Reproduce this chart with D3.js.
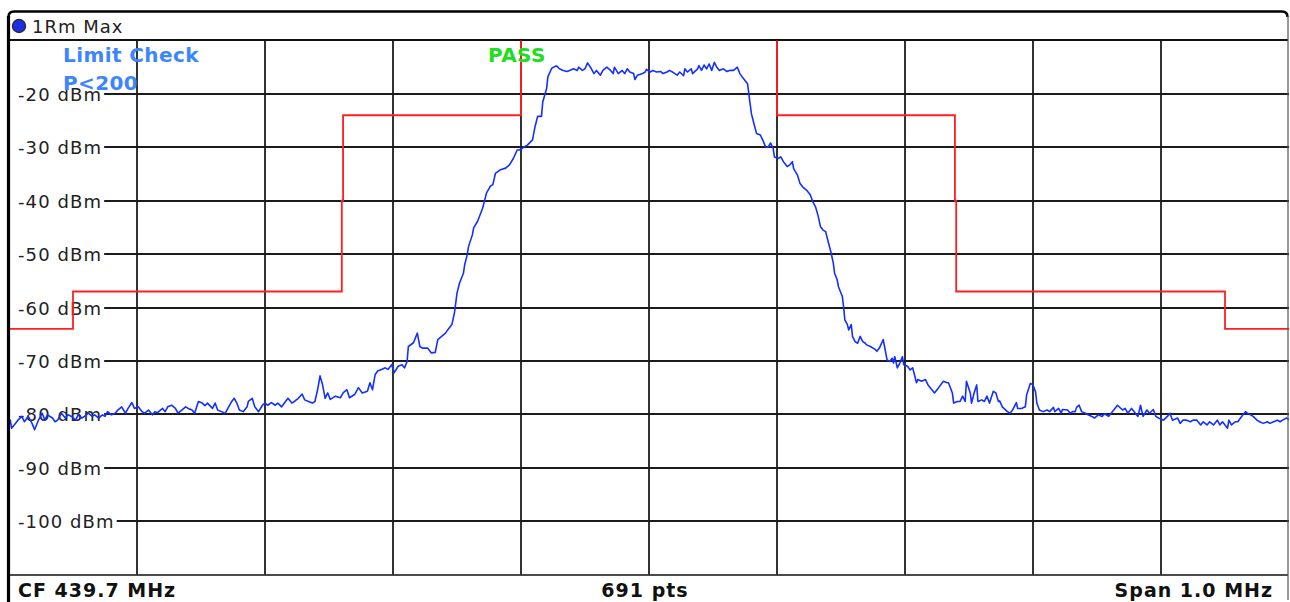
<!DOCTYPE html>
<html>
<head>
<meta charset="utf-8">
<script src="https://cdn.jsdelivr.net/npm/d3@7"></script>
<style>
  body { margin: 0; background: #fff; }
  svg { display: block; font-family: "DejaVu Sans", Verdana, sans-serif; }
</style>
</head>
<body>
<svg id="chart" width="1290" height="602"></svg>
<script>
// analyzer settings
const centerMHz = 439.7;
const spanMHz = 1.0;
const sweepPoints = 691;
const traceName = "1Rm Max";
const limitName = "Limit Check";
const limitRule = "P<200";
const limitResult = "PASS";

// y axis: reference level -10 dBm, 10 dB/div
const levelRange = [-10, -110];
const levelTicks = [-20, -30, -40, -50, -60, -70, -80, -90, -100];
// x grid: offsets from centre frequency, kHz
const freqRange = [-500, 500];
const freqTicks = [-400, -300, -200, -100, 0, 100, 200, 300, 400];

// spectrum emission mask [kHz offset, dBm]
const limitLine = [
  [-500, -64], [-450, -64], [-450, -57], [-240, -57], [-240, -40], [-239, -40], [-239, -24],
  [-100, -24], [-100, 0], [100, 0], [100, -24],
  [239, -24], [239, -40], [240, -40], [240, -57], [450, -57], [450, -64], [500, -64]
];

// max-hold trace [kHz offset, dBm]
const trace = [
  [-500,-82],[-499,-81.1],[-498,-82.6],[-495,-81.7],[-493,-81.1],[-490,-80.4],[-488,-81.4],[-485,-80.4],
  [-482,-81.7],[-480,-82.9],[-477,-81.1],[-474,-79.8],[-472,-81.1],[-470,-80.1],[-466,-80.7],[-464,-81.4],
  [-462,-81.1],[-459,-79.8],[-456,-80.7],[-454,-80.1],[-451,-80.4],[-448,-81.1],[-446,-80.1],[-443,-80.7],
  [-441,-80.4],[-438,-79.8],[-435,-80.4],[-433,-80.1],[-430,-80.7],[-427,-80.1],[-425,-80.4],[-423,-79.5],
  [-420,-80.1],[-417,-79.8],[-415,-79.2],[-412,-78.6],[-409,-79.8],[-407,-78.9],[-404,-77.8],[-402,-78.9],
  [-399,-78.6],[-396,-79.5],[-394,-79.8],[-391,-79.2],[-388,-80.1],[-386,-79.5],[-384,-79.7],[-380,-78.9],
  [-378,-79.5],[-376,-78.6],[-373,-78.3],[-370,-78.9],[-368,-79.8],[-365,-79.2],[-362,-78.6],[-360,-78.9],
  [-357,-79.2],[-355,-79.8],[-352,-77.6],[-349,-77.9],[-347,-78.4],[-345,-77.9],[-341,-78.9],[-339,-77.9],
  [-337,-79.2],[-334,-79.5],[-331,-79.8],[-329,-78.9],[-326,-77.6],[-324,-77],[-322,-77.9],[-320,-79.2],
  [-317,-79.5],[-314,-78.6],[-313,-77.6],[-310,-77],[-308,-78.6],[-305,-79.5],[-302,-78.3],[-300,-77.9],
  [-298,-78.3],[-295,-77.8],[-292,-78.3],[-290,-77.9],[-287,-78.6],[-284,-77.6],[-282,-77],[-279,-77.9],
  [-277,-77.6],[-274,-77],[-271,-76.2],[-269,-77.3],[-266,-77.6],[-263,-77.9],[-261,-77.6],[-259,-75.5],
  [-257,-72.8],[-255,-74.5],[-253,-77],[-251,-76],[-249,-77.2],[-245,-76.6],[-241,-76.9],[-239,-76],
  [-236,-75.4],[-234,-76.9],[-230,-76.3],[-227,-75],[-224,-76],[-220,-75.7],[-218,-74.1],[-216,-75.4],
  [-214,-72.6],[-212,-71.9],[-209,-71.6],[-206,-71.3],[-204,-71.6],[-201,-70.7],[-199,-72.2],[-196,-71],
  [-193,-70.7],[-191,-71.3],[-189,-70.1],[-188,-67.3],[-184,-66.6],[-181,-64.8],[-179,-67.3],[-177,-67.6],
  [-173,-67.6],[-170,-68.5],[-167,-68.4],[-165,-66],[-162,-65.4],[-159,-64.8],[-157,-64.1],[-154,-63.2],
  [-152,-61],[-151,-59.2],[-150,-57.3],[-148,-55.4],[-145,-53.6],[-144,-52],[-142,-50.1],[-141,-48.6],
  [-138,-46.4],[-137,-45.1],[-134,-43.9],[-133,-43.3],[-130,-41.4],[-129,-40.5],[-127,-38.6],[-124,-37.3],
  [-122,-37],[-120,-34.9],[-116,-34.2],[-112,-33.9],[-109,-33.3],[-106,-32.1],[-103,-30.5],[-101,-30.5],
  [-98,-30],[-95,-29.6],[-91,-28.6],[-89,-26.1],[-87,-24.2],[-84,-24.2],[-83,-21.5],[-80,-19],
  [-79,-16.8],[-76,-15.2],[-73,-14.8],[-72,-14.8],[-70,-15.3],[-67,-15.6],[-64,-15.8],[-62,-15.6],
  [-59,-15.3],[-56,-15.6],[-55,-15],[-52,-15.6],[-50,-15.3],[-48,-14.2],[-45,-15.3],[-43,-16.2],
  [-41,-15.6],[-38,-16.5],[-36,-15.6],[-33,-15],[-30,-15.6],[-28,-16.2],[-27,-15],[-24,-16.2],
  [-21,-15.6],[-19,-16.2],[-17,-15.3],[-15,-15.9],[-12,-16.2],[-11,-17.3],[-9,-16.5],[-5,-16.2],
  [-3,-15.9],[-2,-15.4],[1,-15.9],[3,-15.6],[6,-15.9],[9,-15.8],[11,-16.2],[14,-15.9],
  [16,-15.6],[19,-16],[22,-16.5],[24,-15.9],[27,-16.6],[28,-15.3],[30,-15.9],[33,-15.3],
  [34,-16.2],[38,-15.3],[39,-14.7],[41,-15.6],[43,-14.6],[45,-15.3],[47,-14.4],[49,-15.6],
  [51,-14.1],[53,-15],[55,-15.6],[58,-15.3],[61,-15.8],[63,-15.6],[66,-15.6],[69,-15],
  [71,-16.2],[73,-16.9],[77,-18.1],[78,-20],[80,-23.7],[82,-25.6],[84,-27.4],[87,-27.7],
  [89,-28.7],[91,-29.9],[93,-30],[95,-29.2],[97,-30.2],[98,-31.8],[101,-32.1],[103,-31.8],
  [105,-32.7],[108,-33.6],[110,-33.3],[112,-32.7],[113,-34],[116,-35.2],[118,-36.8],[120,-37.4],
  [123,-38],[126,-38.9],[128,-40.2],[130,-41.1],[132,-42.7],[134,-44.9],[136,-45.5],[138,-45.8],
  [140,-47.7],[142,-49.5],[144,-51.7],[145,-53.6],[147,-54.8],[148,-56.1],[151,-57.9],[152,-59.8],
  [153,-62.3],[155,-63.2],[156,-64.2],[158,-63.2],[159,-65.4],[161,-66.4],[163,-66.7],[165,-65.4],
  [167,-66.4],[169,-66.7],[170,-67],[173,-67.3],[175,-67.6],[177,-67.9],[178,-68.2],[180,-67.6],
  [183,-66],[184,-67.3],[186,-69.8],[188,-70.1],[190,-69.5],[191,-70.4],[192,-69.2],[194,-71.3],
  [196,-70.4],[198,-69.2],[199,-70.7],[202,-71],[204,-71.7],[206,-71.3],[209,-74.1],[210,-73.5],
  [213,-73.8],[216,-73.5],[218,-74.5],[221,-75.4],[223,-76],[226,-75.1],[230,-73.8],[233,-74.1],
  [234,-74.1],[237,-76],[238,-77.9],[241,-77.6],[243,-77.6],[245,-76.6],[247,-77.6],[248,-73.8],
  [251,-76],[252,-77.9],[254,-76],[256,-74.5],[257,-77.6],[260,-77.3],[262,-77.6],[264,-76.6],
  [266,-77.9],[269,-75.7],[271,-76],[273,-77.6],[274,-77.5],[276,-78.6],[280,-79.5],[282,-79.8],
  [284,-79.2],[287,-77.8],[288,-78.9],[291,-78.9],[294,-78.6],[295,-76.4],[298,-74.2],[300,-74.5],
  [302,-75.8],[303,-77.9],[305,-79.2],[308,-79.5],[311,-79.2],[313,-79.5],[316,-78.7],[317,-79.5],
  [320,-78.9],[322,-79.8],[323,-79.1],[327,-79.2],[329,-79.8],[331,-79.5],[333,-79.5],[334,-78.7],
  [336,-78.3],[338,-79.5],[341,-79.8],[343,-80.1],[346,-80.4],[348,-80.7],[351,-80.1],[354,-80.4],
  [356,-79.9],[359,-80.4],[362,-79.5],[364,-78.9],[366,-78.3],[370,-79.2],[372,-78.9],[374,-79.8],
  [377,-78.9],[380,-79.8],[382,-80.4],[384,-78.3],[386,-80.4],[389,-79.2],[391,-79.8],[394,-79.1],
  [396,-80.4],[398,-80.7],[402,-81.1],[405,-80.4],[407,-79.8],[409,-81.1],[413,-80.7],[415,-81.7],
  [417,-81.1],[420,-81.1],[423,-81.4],[425,-81.1],[428,-81.1],[431,-82],[433,-81.4],[436,-82],
  [438,-81.4],[441,-82],[444,-81.1],[446,-82],[448,-81.4],[452,-82.6],[453,-81.1],[455,-82],
  [458,-81.4],[460,-81.4],[463,-80.4],[466,-79.5],[467,-79.7],[470,-80.1],[472,-80.4],[475,-81.1],
  [477,-81.4],[480,-81.7],[483,-81.4],[485,-81.7],[488,-81.4],[491,-81.1],[493,-81.4],[495,-81.1],
  [498,-80.7],[500,-81]
];

const W = 1290, H = 602;
const plot = { left: 9, right: 1289, top: 40.5, bottom: 574.5 };

const svg = d3.select("#chart");

const x = d3.scaleLinear().domain(freqRange).range([plot.left, plot.right]);
const y = d3.scaleLinear().domain(levelRange).range([plot.top, plot.bottom]);

svg.append("rect").attr("width", W).attr("height", H).attr("fill", "#fff");

svg.append("clipPath").attr("id", "plotclip")
  .append("rect")
  .attr("x", plot.left).attr("y", plot.top)
  .attr("width", plot.right - plot.left).attr("height", plot.bottom - plot.top);

// level labels first, grid lines start where each label ends
const labels = svg.append("g")
  .attr("font-size", 18)
  .attr("letter-spacing", 1.1)
  .attr("fill", "#222");

const gridH = svg.append("g").attr("stroke", "#1c1c1c").attr("stroke-width", 1.8);
levelTicks.forEach(v => {
  const t = labels.append("text")
    .attr("x", 18)
    .attr("y", Math.round(y(v)) + 6.5)
    .text(v + " dBm");
  const end = 18 + t.node().getComputedTextLength() + 2;
  gridH.append("line")
    .attr("x1", end).attr("x2", plot.right)
    .attr("y1", Math.round(y(v))).attr("y2", Math.round(y(v)));
});

// vertical grid
svg.append("g")
  .attr("stroke", "#1c1c1c").attr("stroke-width", 1.8)
  .selectAll("line").data(freqTicks).join("line")
  .attr("x1", d => Math.round(x(d))).attr("x2", d => Math.round(x(d)))
  .attr("y1", plot.top).attr("y2", plot.bottom);

// plot frame lines
svg.append("line").attr("x1", plot.left).attr("x2", 1288)
  .attr("y1", 40).attr("y2", 40).attr("stroke", "#111").attr("stroke-width", 2);
svg.append("line").attr("x1", 7).attr("x2", 1288)
  .attr("y1", 575).attr("y2", 575).attr("stroke", "#111").attr("stroke-width", 1.6);

// limit line
const line = d3.line().x(d => x(d[0])).y(d => y(d[1]));
svg.append("path")
  .datum(limitLine)
  .attr("clip-path", "url(#plotclip)")
  .attr("fill", "none")
  .attr("stroke", "#ff1f1f")
  .attr("stroke-width", 1.8)
  .attr("d", line);

// trace
svg.append("path")
  .datum(trace)
  .attr("clip-path", "url(#plotclip)")
  .attr("fill", "none")
  .attr("stroke", "#1430ff")
  .attr("stroke-width", 1.6)
  .attr("stroke-linejoin", "round")
  .attr("d", line);

// outer frame
svg.append("path")
  .attr("d", "M8.5,602 L8.5,17 Q8.5,11.5 14,11.5 L1282,11.5 Q1287.5,11.5 1287.5,17")
  .attr("fill", "none").attr("stroke", "#000").attr("stroke-width", 2.5);
svg.append("line").attr("x1", 8.5).attr("x2", 8.5).attr("y1", 16).attr("y2", 602)
  .attr("stroke", "#000").attr("stroke-width", 3.2);
svg.append("line").attr("x1", 1288).attr("x2", 1288).attr("y1", 16).attr("y2", 600)
  .attr("stroke", "#555").attr("stroke-width", 1.2);

// header
svg.append("circle").attr("cx", 19).attr("cy", 26).attr("r", 6.5)
  .attr("fill", "#1a2fe6").attr("stroke", "#2a2a3a").attr("stroke-width", 1.4);
svg.append("text").attr("x", 32).attr("y", 33)
  .attr("font-size", 18).attr("letter-spacing", 1).attr("fill", "#222")
  .text(traceName);

// limit check text
const lim = svg.append("g").attr("font-weight", "bold").attr("font-size", 20).attr("letter-spacing", 0.4);
lim.append("text").attr("x", 63).attr("y", 62).attr("fill", "#3d85ff").text(limitName);
lim.append("text").attr("x", 63).attr("y", 90).attr("fill", "#3d85ff").text(limitRule);
lim.append("text").attr("x", 488).attr("y", 62).attr("fill", "#22dd22").text(limitResult);

// footer
const foot = svg.append("g").attr("font-weight", "bold").attr("font-size", 19)
  .attr("letter-spacing", 1).attr("fill", "#111");
foot.append("text").attr("x", 18).attr("y", 597).text("CF " + centerMHz.toFixed(1) + " MHz");
foot.append("text").attr("x", 645).attr("y", 597).attr("text-anchor", "middle").text(sweepPoints + " pts");
foot.append("text").attr("x", 1273).attr("y", 597).attr("text-anchor", "end").text("Span " + spanMHz.toFixed(1) + " MHz");
</script>
</body>
</html>
